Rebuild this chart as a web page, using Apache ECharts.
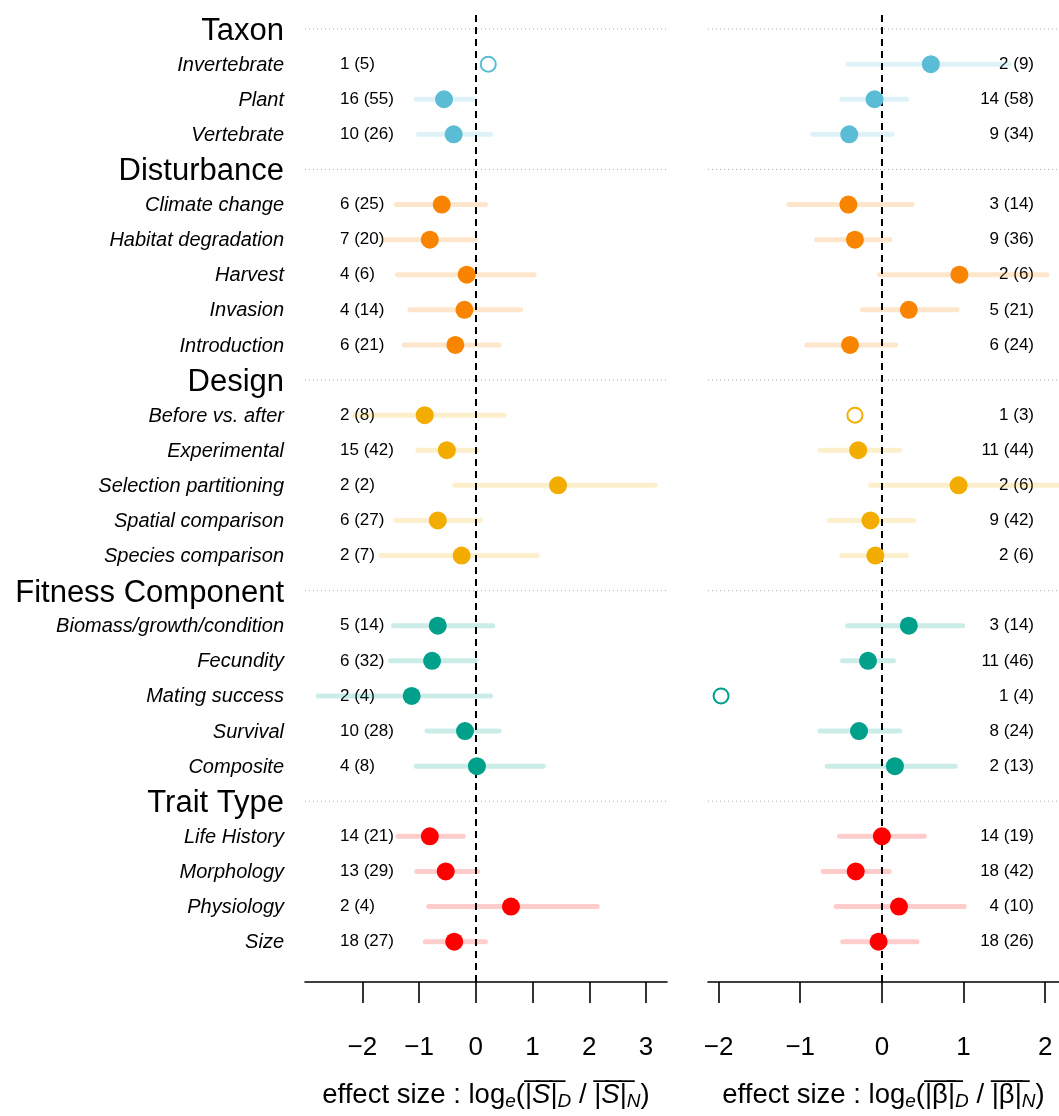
<!DOCTYPE html>
<html><head><meta charset="utf-8">
<script src="https://cdn.jsdelivr.net/npm/echarts@6/dist/echarts.min.js"></script>
<style>html,body{margin:0;padding:0;background:#fff}#c{width:1059px;height:1116px}</style>
</head><body><div id="c"></div>
<script>
// ---------- data ----------
const headers = ['Taxon', 'Disturbance', 'Design', 'Fitness Component', 'Trait Type'];
const groupColors = ['#5BBCD6', '#F98400', '#F2AD00', '#00A08A', '#FF0000'];
const categories = ['Invertebrate', 'Plant', 'Vertebrate',
  'Climate change', 'Habitat degradation', 'Harvest', 'Invasion', 'Introduction',
  'Before vs. after', 'Experimental', 'Selection partitioning', 'Spatial comparison', 'Species comparison',
  'Biomass/growth/condition', 'Fecundity', 'Mating success', 'Survival', 'Composite',
  'Life History', 'Morphology', 'Physiology', 'Size'];
const categoryGroup = [0,0,0, 1,1,1,1,1, 2,2,2,2,2, 3,3,3,3,3, 4,4,4,4];

// left panel: log(|S|_D / |S|_N)
const leftMean = [0.22,-0.56,-0.39, -0.60,-0.81,-0.16,-0.20,-0.36, -0.90,-0.51,1.45,-0.67,-0.25, -0.67,-0.77,-1.13,-0.19,0.02, -0.81,-0.53,0.62,-0.38];
const leftLow  = [null,-1.05,-1.01, -1.40,-1.62,-1.38,-1.16,-1.26, -2.13,-1.02,-0.37,-1.41,-1.67, -1.45,-1.50,-2.78,-0.86,-1.05, -1.37,-1.04,-0.83,-0.89];
const leftHigh = [null,-0.04,0.26, 0.17,-0.01,1.03,0.79,0.41, 0.50,0.02,3.16,0.08,1.08, 0.30,-0.01,0.26,0.41,1.19, -0.22,0.03,2.14,0.17];
const leftStudies   = [1,16,10, 6,7,4,4,6, 2,15,2,6,2, 5,6,2,10,4, 14,13,2,18];
const leftEstimates = [5,55,26, 25,20,6,14,21, 8,42,2,27,7, 14,32,4,28,8, 21,29,4,27];

// right panel: log(|beta|_D / |beta|_N)
const rightMean = [0.60,-0.09,-0.40, -0.41,-0.33,0.95,0.33,-0.39, -0.33,-0.29,0.94,-0.14,-0.08, 0.33,-0.17,-1.97,-0.28,0.16, 0.00,-0.32,0.21,-0.04];
const rightLow  = [-0.41,-0.49,-0.85, -1.14,-0.80,-0.03,-0.24,-0.92, null,-0.76,-0.14,-0.64,-0.49, -0.42,-0.48,null,-0.76,-0.67, -0.52,-0.72,-0.56,-0.48];
const rightHigh = [1.56,0.30,0.12, 0.37,0.10,2.02,0.92,0.17, null,0.22,2.15,0.39,0.30, 0.99,0.14,null,0.22,0.90, 0.52,0.09,1.01,0.43];
const rightStudies   = [2,14,9, 3,9,2,5,6, 1,11,2,9,2, 3,11,1,8,2, 14,18,4,18];
const rightEstimates = [9,58,34, 14,36,6,21,24, 3,44,6,42,6, 14,46,4,24,13, 19,42,10,26];

const leftTicks = [-2, -1, 0, 1, 2, 3];
const rightTicks = [-2, -1, 0, 1, 2];

// ---------- layout of rows ----------
const FONT = '"Liberation Sans", Arial, Helvetica, sans-serif';
const rowText = [];
const rowIsHeader = [];
const headerRows = [];
const catRow = [];
headers.forEach((h, g) => {
  headerRows.push(rowText.length);
  rowText.push(h); rowIsHeader.push(true);
  categories.forEach((c, i) => {
    if (categoryGroup[i] === g) { catRow[i] = rowText.length; rowText.push(c); rowIsHeader.push(false); }
  });
});
const allRows = rowText.map((_, i) => i);

function rgba(hex, a) {
  const n = parseInt(hex.slice(1), 16);
  return 'rgba(' + ((n >> 16) & 255) + ',' + ((n >> 8) & 255) + ',' + (n & 255) + ',' + a + ')';
}
const minus = v => (v < 0 ? '\u2212' + Math.abs(v) : String(v));

const Y_MIN = -0.4, Y_MAX = 27.15;

function yAxisBase(gridIndex, extra) {
  return Object.assign({
    type: 'value', gridIndex, inverse: true, min: Y_MIN, max: Y_MAX,
    axisLine: { show: false, onZero: false }, axisTick: { show: false }, splitLine: { show: false }
  }, extra);
}

function countLabels(studies, estimates) {
  const m = {};
  categories.forEach((c, i) => { m[catRow[i]] = studies[i] + ' (' + estimates[i] + ')'; });
  return m;
}
const leftCountMap = countLabels(leftStudies, leftEstimates);
const rightCountMap = countLabels(rightStudies, rightEstimates);

function xAxisBase(gridIndex, min, max, ticks, nameRich) {
  return {
    type: 'value', gridIndex, min, max,
    axisLine: { onZero: false, lineStyle: { color: '#000', width: 1.6 } },
    axisTick: { customValues: ticks, length: 21, lineStyle: { color: '#000', width: 1.6 } },
    axisLabel: { customValues: ticks, formatter: minus, color: '#000', fontSize: 26, fontFamily: FONT, margin: 53 },
    splitLine: { show: false },
    name: nameRich, nameLocation: 'middle', nameGap: 97,
    nameTextStyle: {
      color: '#000', fontFamily: FONT,
      rich: {
        t: { fontSize: 27.5, fontFamily: FONT, lineHeight: 32, color: '#000' },
        ti: { fontSize: 27.5, fontFamily: FONT, lineHeight: 32, fontStyle: 'italic', color: '#000' },
        sub: { fontSize: 19, fontFamily: FONT, fontStyle: 'italic', lineHeight: 21, verticalAlign: 'bottom', color: '#000' }
      }
    }
  };
}
const ovl = s => s.split('').map(ch => ch + '\u0305').join('');
const leftName = '{t|effect size : log}{sub|e}{t|(}{t|' + ovl('|') + '}{ti|' + ovl('S') + '}{t|' + ovl('|') + '}{sub|D}{t| / }{t|' + ovl('|') + '}{ti|' + ovl('S') + '}{t|' + ovl('|') + '}{sub|N}{t|)}';
const rightName = '{t|effect size : log}{sub|e}{t|(}{t|' + ovl('|\u03B2|') + '}{sub|D}{t| / }{t|' + ovl('|\u03B2|') + '}{sub|N}{t|)}';

function panelSeries(xi, yi, mean, low, high, studies) {
  const bars = [], filled = [], open = [];
  categories.forEach((c, i) => {
    const g = categoryGroup[i];
    if (studies[i] > 1 && low[i] != null) bars.push([low[i], high[i], catRow[i], g]);
    if (studies[i] > 1) filled.push({ value: [mean[i], catRow[i]], itemStyle: { color: groupColors[g], opacity: 1 } });
    else open.push({ value: [mean[i], catRow[i]], itemStyle: { color: '#fff', borderColor: groupColors[g], borderWidth: 2, opacity: 1 } });
  });
  return [
    { // header separators
      type: 'custom', xAxisIndex: xi, yAxisIndex: yi, z: 1, silent: true,
      data: headerRows.map(r => [0, r]), encode: { x: 0, y: 1 },
      renderItem(params, api) {
        const cs = params.coordSys;
        const y = api.coord([0, api.value(1)])[1];
        return { type: 'line', shape: { x1: cs.x, y1: y, x2: cs.x + cs.width, y2: y },
          style: { stroke: '#b0b0b0', lineWidth: 1, lineDash: [1, 3] } };
      }
    },
    { // intervals
      type: 'custom', xAxisIndex: xi, yAxisIndex: yi, z: 2, silent: true,
      data: bars, encode: { x: [0, 1], y: 2 },
      renderItem(params, api) {
        const p1 = api.coord([api.value(0), api.value(2)]);
        const p2 = api.coord([api.value(1), api.value(2)]);
        return { type: 'line', shape: { x1: p1[0], y1: p1[1], x2: p2[0], y2: p2[1] },
          style: { stroke: rgba(groupColors[api.value(3)], 0.2), lineWidth: 5, lineCap: 'round' } };
      }
    },
    { // zero reference
      type: 'scatter', xAxisIndex: xi, yAxisIndex: yi, z: 3, silent: true, data: [],
      markLine: { z: 3, silent: true, symbol: 'none', label: { show: false },
        lineStyle: { color: '#000', width: 2, type: [7, 5] }, data: [{ xAxis: 0 }] }
    },
    { type: 'scatter', xAxisIndex: xi, yAxisIndex: yi, z: 10, silent: true, symbolSize: 18, data: filled },
    { type: 'scatter', xAxisIndex: xi, yAxisIndex: yi, z: 10, silent: true, symbol: 'circle', symbolSize: 15, data: open }
  ];
}

const option = {
  animation: false,
  backgroundColor: '#fff',
  grid: [
    { left: 305, width: 362, top: 15, height: 967 },
    { left: 708, right: 0, top: 15, height: 967 }
  ],
  xAxis: [
    xAxisBase(0, -3.01, 3.37, leftTicks, leftName),
    xAxisBase(1, -2.13, 2.17, rightTicks, rightName)
  ],
  yAxis: [
    yAxisBase(0, { position: 'left', axisLabel: {
      customValues: allRows, margin: 21,
      formatter: v => (rowIsHeader[v] ? '{h|' + rowText[v] + '}' : '{i|' + rowText[v] + '}'),
      rich: {
        h: { fontSize: 31, fontFamily: FONT, color: '#000', padding: [5, 0, 0, 0] },
        i: { fontSize: 20, fontFamily: FONT, fontStyle: 'italic', color: '#000', padding: [2, 0, 0, 0] }
      } } }),
    yAxisBase(0, { position: 'left', axisLabel: {
      customValues: Object.keys(leftCountMap).map(Number), inside: true, margin: 35,
      formatter: v => leftCountMap[v], fontSize: 17, fontFamily: FONT, color: '#000' } }),
    yAxisBase(1, { position: 'right', axisLabel: {
      customValues: Object.keys(rightCountMap).map(Number), inside: true, margin: 25,
      formatter: v => rightCountMap[v], fontSize: 17, fontFamily: FONT, color: '#000' } })
  ],
  series: [].concat(
    panelSeries(0, 0, leftMean, leftLow, leftHigh, leftStudies),
    panelSeries(1, 2, rightMean, rightLow, rightHigh, rightStudies)
  )
};
const chart = echarts.init(document.getElementById('c'), null, { renderer: 'canvas' });
chart.setOption(option);
</script></body></html>
